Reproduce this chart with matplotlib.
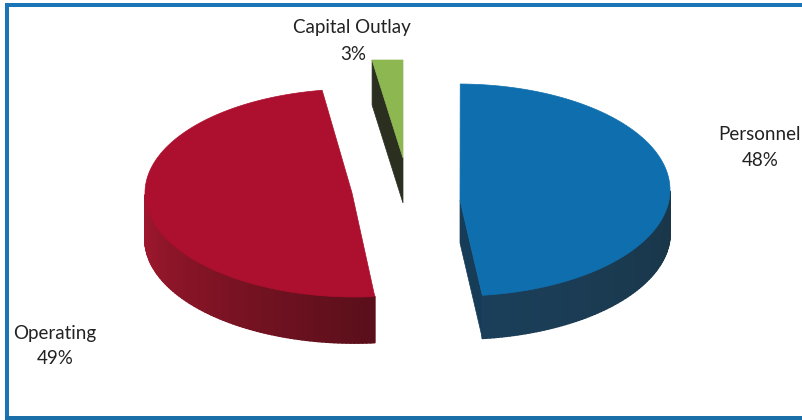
import numpy as np
import matplotlib
matplotlib.use('Agg')
import matplotlib.pyplot as plt
from matplotlib.patches import Polygon, Rectangle
from matplotlib.collections import PolyCollection

# slices, clockwise from 12 o'clock
labels = ['Personnel', 'Operating', 'Capital Outlay']
values = [48, 49, 3]
top_colors = ['#0f6fae', '#ad0f2e', '#8db750']
wall_left = ['#1b3f5a', '#a3182f', '#2c3320']
wall_right = ['#1a3648', '#5a0f1a', '#2c3320']
cut_colors = ['#173c58', '#5a0f1a', '#2a2f1f']

# picture geometry of each exploded slice: centre x, centre y, rx, ry, depth, angle shift
geom = [(458, 190, 212, 106, 43, -0.6),
        (355, 193, 210, 104, 46, -1.8),
        (403, 158, 165, 98, 45, 0)]
apex_shift = [(2, 10), (-3, 0), (0, 0)]

plt.rcParams['font.family'] = ['Lato', 'DejaVu Sans']
fig = plt.figure(figsize=(8.02, 4.20), dpi=100)
ax = fig.add_axes([0, 0, 1, 1])
ax.set_xlim(0, 802)
ax.set_ylim(420, 0)
ax.axis('off')

# frame (right side is cut off in the scan)
frame = '#1b74b6'
ax.add_patch(Rectangle((5, 3), 797, 4, color=frame, lw=0))
ax.add_patch(Rectangle((5, 3), 4, 416, color=frame, lw=0))
ax.add_patch(Rectangle((5, 416), 797, 3.5, color='#1a6fa8', lw=0))


def hex_mix(a, b, f):
    ca = np.array(matplotlib.colors.to_rgb(a))
    cb = np.array(matplotlib.colors.to_rgb(b))
    return tuple(ca + (cb - ca) * f)


start = 90.0
for i, v in enumerate(values):
    cx, cy, rx, ry, d, shift = geom[i]
    sweep = v / sum(values) * 360
    a0 = start + shift
    a1 = start - sweep + shift
    start -= sweep
    t = np.radians(np.linspace(a0, a1, 160))
    xs = cx + rx * np.cos(t)
    ys = cy - ry * np.sin(t)
    if i == 2:
        ys = np.full(len(ys), ys.min())  # top edge is flat in the scan
    ax_x, ax_y = cx + apex_shift[i][0], cy + apex_shift[i][1]

    # cut faces, which sit behind the outer wall
    if i == 0:
        ax.add_patch(Polygon([(ax_x, ax_y), (xs[-1], ys[-1]), (xs[-1], ys[-1] + d), (ax_x, ax_y + d)],
                             fc=cut_colors[i], ec=cut_colors[i], lw=0.5, zorder=2))
    if i == 2:
        ax.add_patch(Polygon([(ax_x, ax_y), (xs[0], ys[0]), (xs[0], ys[0] + d), (ax_x, ax_y + d)],
                             fc=cut_colors[i], ec=cut_colors[i], lw=0.5, zorder=2))

    # outer wall, only the front half of the ellipse shows
    front = np.where(ys >= cy)[0]
    if i < 2 and len(front) > 1:
        order = np.argsort(xs[front])
        fx = xs[front][order]
        fy = ys[front][order]
        quads = []
        cols = []
        for k in range(len(fx) - 1):
            quads.append([(fx[k], fy[k]), (fx[k + 1], fy[k + 1]),
                          (fx[k + 1], fy[k + 1] + d), (fx[k], fy[k] + d)])
            cols.append(hex_mix(wall_left[i], wall_right[i], k / (len(fx) - 2)))
        ax.add_collection(PolyCollection(quads, facecolors=cols, edgecolors=cols, linewidths=1.3, zorder=3))

    # top face
    pts = [(ax_x, ax_y)] + list(zip(xs, ys))
    ax.add_patch(Polygon(pts, closed=True, fc=top_colors[i], ec=top_colors[i], lw=0.5, zorder=4))

txt = '#222222'
fs = 13.5
ax.text(352, 28, labels[2], ha='center', va='center', fontsize=fs, color=txt)
ax.text(353, 55, '%d%%' % values[2], ha='center', va='center', fontsize=fs, color=txt)
ax.text(760, 134, labels[0], ha='center', va='center', fontsize=fs, color=txt)
ax.text(760, 161, '%d%%' % values[0], ha='center', va='center', fontsize=fs, color=txt)
ax.text(55, 333, labels[1], ha='center', va='center', fontsize=fs, color=txt)
ax.text(55, 358, '%d%%' % values[1], ha='center', va='center', fontsize=fs, color=txt)

fig.savefig('out.png', dpi=100)
